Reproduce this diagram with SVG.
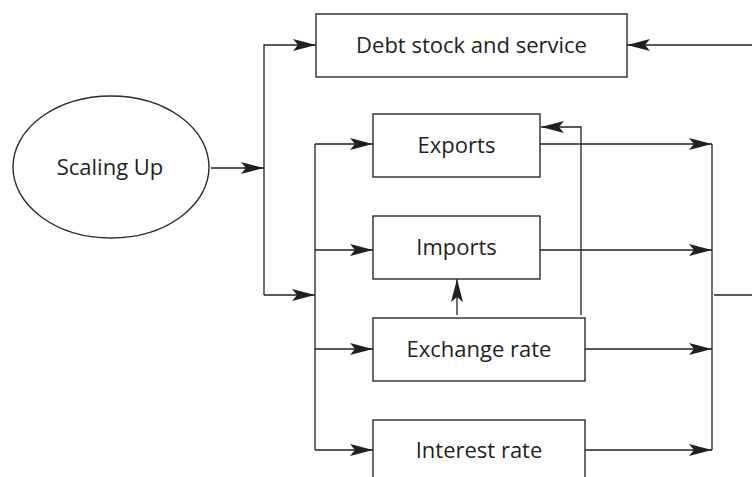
<svg xmlns="http://www.w3.org/2000/svg" width="752" height="477" viewBox="0 0 752 477">
<style>
.box{fill:#fff;stroke:#2a2a2a;stroke-width:1.4}
.lbl{font-family:"Open Sans","Noto Sans",sans-serif;font-size:22px;fill:#231f20;text-anchor:middle}
.ln{fill:none;stroke:#231f20;stroke-width:1.3}
.arr{marker-end:url(#ah)}
</style>
<defs>
<marker id="ah" markerUnits="userSpaceOnUse" markerWidth="25" markerHeight="13" refX="23" refY="6.5" orient="auto" overflow="visible">
<path d="M0,0.5 L23,6.5 L0,12.5 L5,6.5 z" fill="#231f20"/>
</marker>
</defs>
<rect width="752" height="477" fill="#fff"/>
<g id="connectors">
<line class="ln arr" x1="211" y1="168" x2="264" y2="168"/>
<polyline class="ln" points="264,295 264,45 316,45" marker-end="url(#ah)"/>
<line class="ln arr" x1="264" y1="295" x2="315" y2="295"/>
<line class="ln" x1="315" y1="144" x2="315" y2="450"/>
<line class="ln arr" x1="315" y1="144" x2="373" y2="144"/>
<line class="ln arr" x1="315" y1="250" x2="373" y2="250"/>
<line class="ln arr" x1="315" y1="349" x2="373" y2="349"/>
<line class="ln arr" x1="315" y1="450" x2="373" y2="450"/>
<line class="ln arr" x1="540" y1="144" x2="712" y2="144"/>
<line class="ln arr" x1="540" y1="250" x2="712" y2="250"/>
<line class="ln arr" x1="585" y1="349" x2="712" y2="349"/>
<line class="ln arr" x1="585" y1="450" x2="712" y2="450"/>
<line class="ln" x1="712" y1="144" x2="712" y2="450"/>
<line class="ln" x1="714" y1="295" x2="752" y2="295"/>
<line class="ln arr" x1="752" y1="45" x2="627" y2="45"/>
<polyline class="ln" points="581,315 581,127 541,127" marker-end="url(#ah)"/>
<line class="ln arr" x1="457" y1="315" x2="457" y2="279"/>
</g>
<g id="scaling-up">
<ellipse cx="111" cy="167" rx="98" ry="71" fill="#fff" stroke="#2a2a2a" stroke-width="1.4"/>
<text class="lbl" x="110" y="175">Scaling Up</text>
</g>
<g id="debt">
<rect class="box" x="316" y="14" width="311" height="63"/>
<text class="lbl" x="471.5" y="53">Debt stock and service</text>
</g>
<g id="exports">
<rect class="box" x="373" y="114" width="167" height="63"/>
<text class="lbl" x="456.5" y="153">Exports</text>
</g>
<g id="imports">
<rect class="box" x="373" y="216" width="167" height="63"/>
<text class="lbl" x="456.5" y="255">Imports</text>
</g>
<g id="exchange-rate">
<rect class="box" x="373" y="318" width="212" height="63"/>
<text class="lbl" x="479" y="357">Exchange rate</text>
</g>
<g id="interest-rate">
<rect class="box" x="373" y="420" width="212" height="63"/>
<text class="lbl" x="479" y="458">Interest rate</text>
</g>
</svg>
